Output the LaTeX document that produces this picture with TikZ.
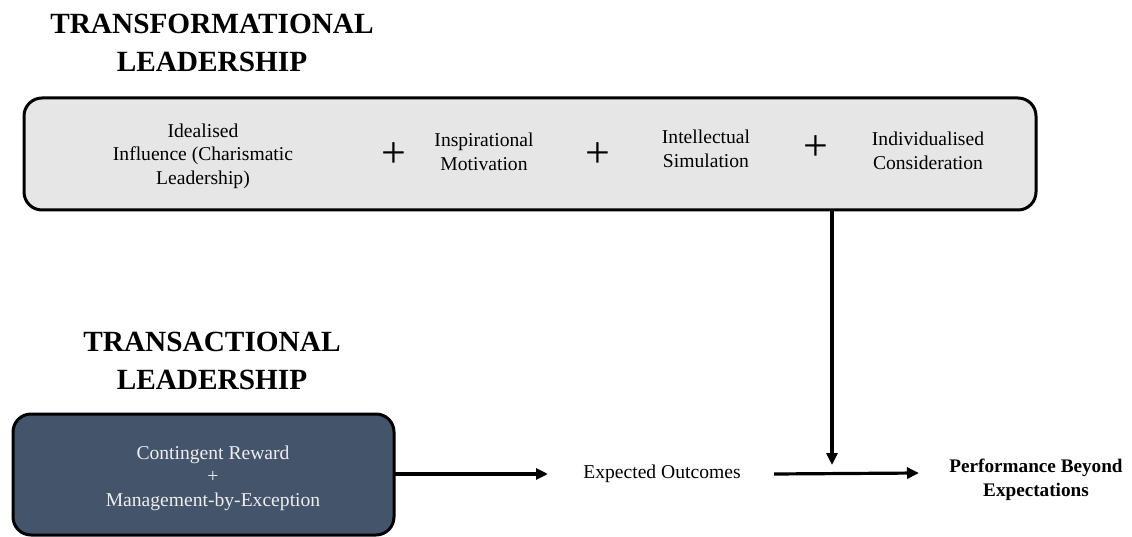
\documentclass[tikz,border=0pt]{standalone}
\usepackage{fontspec}
\setmainfont{Liberation Serif}
\usetikzlibrary{arrows.meta}
\definecolor{boxgray}{HTML}{E6E6E6}
\definecolor{boxblue}{HTML}{44546A}
\tikzset{
  title/.style={font=\bfseries\fontsize{29.3}{38.5}\selectfont, align=center, inner sep=0pt},
  item/.style={font=\fontsize{19.6}{23.5}\selectfont, align=center, inner sep=0pt},
  plus/.style={font=\fontsize{44}{44}\selectfont, inner sep=0pt},
  panel/.style={draw=black, line width=3pt, rounded corners=18pt},
  conn/.style={line width=3.2pt, -{Triangle[length=12pt,width=11pt]}},
}
\begin{document}
\begin{tikzpicture}[x=1pt,y=-1pt]
\useasboundingbox (0,0) rectangle (1132,537);
% titles
\node[title] (t1) at (212,43) {TRANSFORMATIONAL\\LEADERSHIP};
\node[title] (t2) at (212,361) {TRANSACTIONAL\\LEADERSHIP};
% top panel
\draw[panel, fill=boxgray] (24,98) rectangle (1036,210);
\node[item] (ii) at (203,156) {Idealised\\Influence (Charismatic\\Leadership)};
\node[plus] (p1) at (394,155) {+};
\node[item] (im) at (484,152) {Inspirational\\Motivation};
\node[plus] (p2) at (598,155) {+};
\node[item] (is) at (706,149) {Intellectual\\Simulation};
\node[plus] (p3) at (816,148) {+};
\node[item] (ic) at (928,151) {Individualised\\Consideration};
\coordinate (topb) at (832,210);
% bottom panel
\draw[panel, fill=boxblue] (13,414) rectangle (394,535);
\node[item, text=white!90!boxblue] (tr) at (213,478) {Contingent Reward\\+\\Management-by-Exception};
\coordinate (trE) at (394,474);
% outcomes
\node[item] (exp) at (662,474) {Expected Outcomes};
\node[item, font=\bfseries\fontsize{19.2}{23.5}\selectfont] (perf) at (1036,480) {Performance Beyond\\Expectations};
\coordinate (join) at (832,465);
\coordinate (a1) at (548,474);
\coordinate (a2s) at (774,474);
\coordinate (a2e) at (919,473);
% connectors
\draw[conn] (topb) -- (join);
\draw[conn] (trE) -- (a1);
\draw[conn] (a2s) -- (a2e);
\end{tikzpicture}
\end{document}
